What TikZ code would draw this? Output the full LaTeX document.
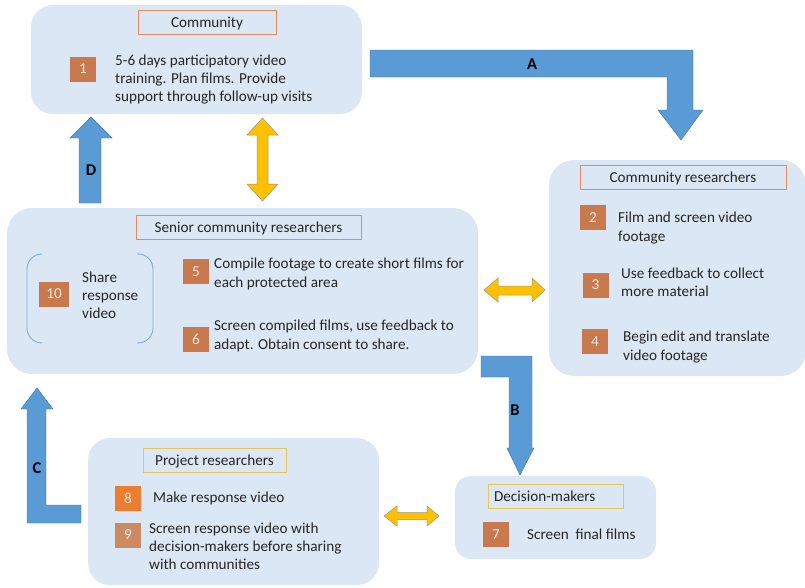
\documentclass[tikz,border=0pt]{standalone}
\usepackage{fontspec}
\setmainfont{Carlito}
\definecolor{boxfill}{RGB}{219,231,244}
\definecolor{bluearrow}{RGB}{91,155,213}
\definecolor{blueedge}{RGB}{65,113,156}
\definecolor{yelarrow}{RGB}{255,192,0}
\definecolor{yeledge}{RGB}{150,150,130}
\definecolor{numfill}{RGB}{200,122,78}
\definecolor{numeight}{RGB}{237,125,49}
\definecolor{numnine}{RGB}{204,138,99}
\definecolor{titleorange}{RGB}{226,140,96}
\definecolor{titleyellow}{RGB}{230,196,90}
\definecolor{bracketblue}{RGB}{130,170,215}
\definecolor{txt}{RGB}{38,38,38}
\begin{document}
\begin{tikzpicture}[x=1pt,y=-1pt,
  every node/.style={font=\fontsize{15.2}{18.2}\selectfont, text=txt},
  region/.style={fill=boxfill, draw=none, rounded corners=#1, inner sep=0pt},
  region/.default=22pt,
  titlebox/.style={draw=#1, line width=0.8pt, fill=boxfill, inner sep=0pt, minimum height=24pt, text height=10pt, text depth=0pt},
  numbox/.style={fill=#1, draw=none, inner sep=0pt, minimum width=26pt, minimum height=25pt, text=white!82!numfill},
  numbox/.default=numfill,
  bodytext/.style={anchor=west, align=left, inner sep=0pt},
  blockarrow/.style={fill=bluearrow, draw=blueedge, line width=0.4pt},
  dblarrow/.style={fill=yelarrow, draw=yeledge, line width=0.5pt},
  letter/.style={font=\fontsize{16.5}{18}\selectfont\bfseries, text=black}
]
\useasboundingbox (0,0) rectangle (805,587);

% regions
\node[region, minimum width=331pt, minimum height=109pt] (comm) at (196.5,59.5) {};
\node[region=25pt, minimum width=257pt, minimum height=216pt] (cres) at (677.5,268) {};
\node[region=25pt, minimum width=471pt, minimum height=166pt] (senior) at (242.5,291) {};
\node[region=16pt, minimum width=201pt, minimum height=83pt] (dec) at (555.5,517.5) {};
\node[region, minimum width=291pt, minimum height=147pt] (proj) at (233.5,511.5) {};

% titles
\node[titlebox=titleorange, minimum width=138pt] (tcomm) at (207,22) {Community};
\node[titlebox=titleorange, minimum width=206pt] (tcres) at (683,177) {Community researchers};
\node[titlebox=titleorange, minimum width=225pt] (tsen) at (248.5,227) {Senior community researchers};
\node[titlebox=titleyellow, minimum width=143pt] (tproj) at (214.5,460.5) {Project researchers};
\node[titlebox=titleyellow, minimum width=135pt, text width=123pt, align=left] (tdec) at (555.5,496.5) {Decision-makers};

% number boxes
\node[numbox] (n1) at (83,69) {1};
\node[numbox] (n2) at (593,217.5) {2};
\node[numbox] (n3) at (595.5,285) {3};
\node[numbox] (n4) at (595,341.5) {4};
\node[numbox] (n5) at (196,271.5) {5};
\node[numbox] (n6) at (196,339.5) {6};
\node[numbox] (n7) at (496,534.5) {7};
\node[numbox=numeight] (n8) at (128,498.5) {8};
\node[numbox=numnine] (n9) at (128,535) {9};
\node[numbox, minimum width=30pt] (n10) at (54,294) {10};

% texts
\node[bodytext] (t1) at (115,79.5) {5-6 days participatory video\\training. Plan films. Provide\\support through follow-up visits};
\node[bodytext] (t2) at (618,228) {Film and screen video\\footage};
\node[bodytext] (t3) at (621,282.5) {Use feedback to collect\\more material};
\node[bodytext] (t4) at (623,347) {Begin edit and translate\\video footage};
\node[bodytext] (t10) at (82,295) {Share\\response\\video};
\node[bodytext] (t5) at (214,274) {Compile footage to create short films for\\each protected area};
\node[bodytext] (t6) at (214,336) {Screen compiled films, use feedback to\\adapt. Obtain consent to share.};
\node[bodytext] (t7) at (527,534) {Screen\ \ final films};
\node[bodytext] (t8) at (153,498) {Make response video};
\node[bodytext] (t9) at (149,546) {Screen response video with\\decision-makers before sharing\\with communities};

% brackets
\draw[bracketblue, line width=0.9pt, rounded corners=15pt] (42,254) -- (27,254) -- (27,343) -- (42,343);
\draw[bracketblue, line width=0.9pt, rounded corners=15pt] (137,254) -- (153,254) -- (153,343) -- (137,343);

% blue block arrows
\draw[blockarrow] (370,50) -- (693,50) -- (693,110) -- (703,110) -- (681,140) -- (658,110) -- (667,110) -- (667,77) -- (370,77) -- cycle;
\node[letter] (la) at (532,64) {A};
\draw[blockarrow] (481,356) -- (532,356) -- (532,448) -- (534,448) -- (520,475) -- (507,448) -- (509,448) -- (509,377) -- (481,377) -- cycle;
\node[letter] (lb) at (515,410) {B};
\draw[blockarrow] (27,523) -- (27,409) -- (21,409) -- (37,388) -- (53,409) -- (46,409) -- (46,505) -- (81,505) -- (81,523) -- cycle;
\node[letter] (lc) at (37,468) {C};
\draw[blockarrow] (79,203) -- (79,138) -- (70,138) -- (91,117) -- (112,138) -- (101,138) -- (101,203) -- cycle;
\node[letter] (ld) at (91,170) {D};

% yellow double arrows
\draw[dblarrow] (262.5,118) -- (278,135) -- (268,135) -- (268,184) -- (278,184) -- (262.5,201) -- (247,184) -- (257,184) -- (257,135) -- (247,135) -- cycle;
\draw[dblarrow] (484,290) -- (498,278) -- (498,286) -- (532,286) -- (532,278) -- (545,290) -- (532,302) -- (532,295) -- (498,295) -- (498,302) -- cycle;
\draw[dblarrow] (384,516) -- (397,506) -- (397,512.5) -- (427,512.5) -- (427,506) -- (439,516) -- (427,526) -- (427,519.5) -- (397,519.5) -- (397,526) -- cycle;
\end{tikzpicture}
\end{document}
